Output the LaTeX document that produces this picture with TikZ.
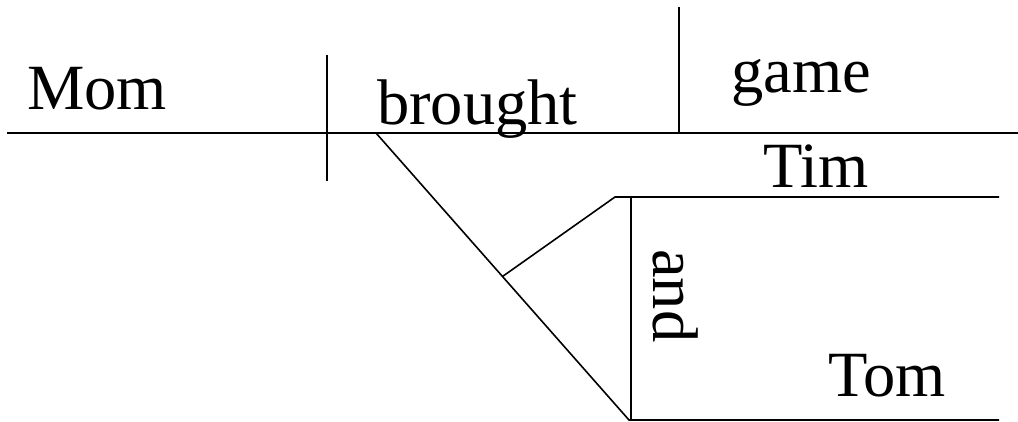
\documentclass[tikz,border=0pt]{standalone}
\usepackage{fontspec}
\setmainfont{Liberation Serif}
\usetikzlibrary{calc}
\begin{document}
\begin{tikzpicture}[x=1pt,y=-1pt,
  word/.style={inner sep=0pt,anchor=base west,font=\fontsize{64.5}{64.5}\selectfont},
  heavy/.style={line width=2pt},
  thin/.style={line width=1.6pt}]
\useasboundingbox (0,0) rectangle (1018,422);
% coordinates
\coordinate (mainL) at (7,133);
\coordinate (mainR) at (1018,133);
\coordinate (sdTop) at (327,55);
\coordinate (sdBot) at (327,181);
\coordinate (odTop) at (679,7);
\coordinate (odBot) at (679,133);
\coordinate (dgTop) at (376,133);
\coordinate (dgBot) at (629,420);
\coordinate (botR) at (999,420);
\coordinate (junc) at ($(dgTop)!0.5!(dgBot)$);
\coordinate (upL) at (615,197);
\coordinate (upR) at (999,197);
\coordinate (cjTop) at (631,197);
\coordinate (cjBot) at (631,420);
% lines
\draw[heavy] (mainL) -- (mainR);
\draw[heavy] (sdTop) -- (sdBot);
\draw[heavy] (odTop) -- (odBot);
\draw[thin] (dgTop) -- (dgBot) -- (botR);
\draw[thin] (junc) -- (upL) -- (upR);
\draw[heavy] (cjTop) -- (cjBot);
% words
\node[word] (mom) at (27,110) {Mom};
\node[word] (brought) at (377,125) {brought};
\node[word] (game) at (731,93) {game};
\node[word] (tim) at (763,188) {Tim};
\node[word] (tom) at (828,396) {Tom};
\node[word,rotate=-90] (and) at (653,249) {and};
\end{tikzpicture}
\end{document}
